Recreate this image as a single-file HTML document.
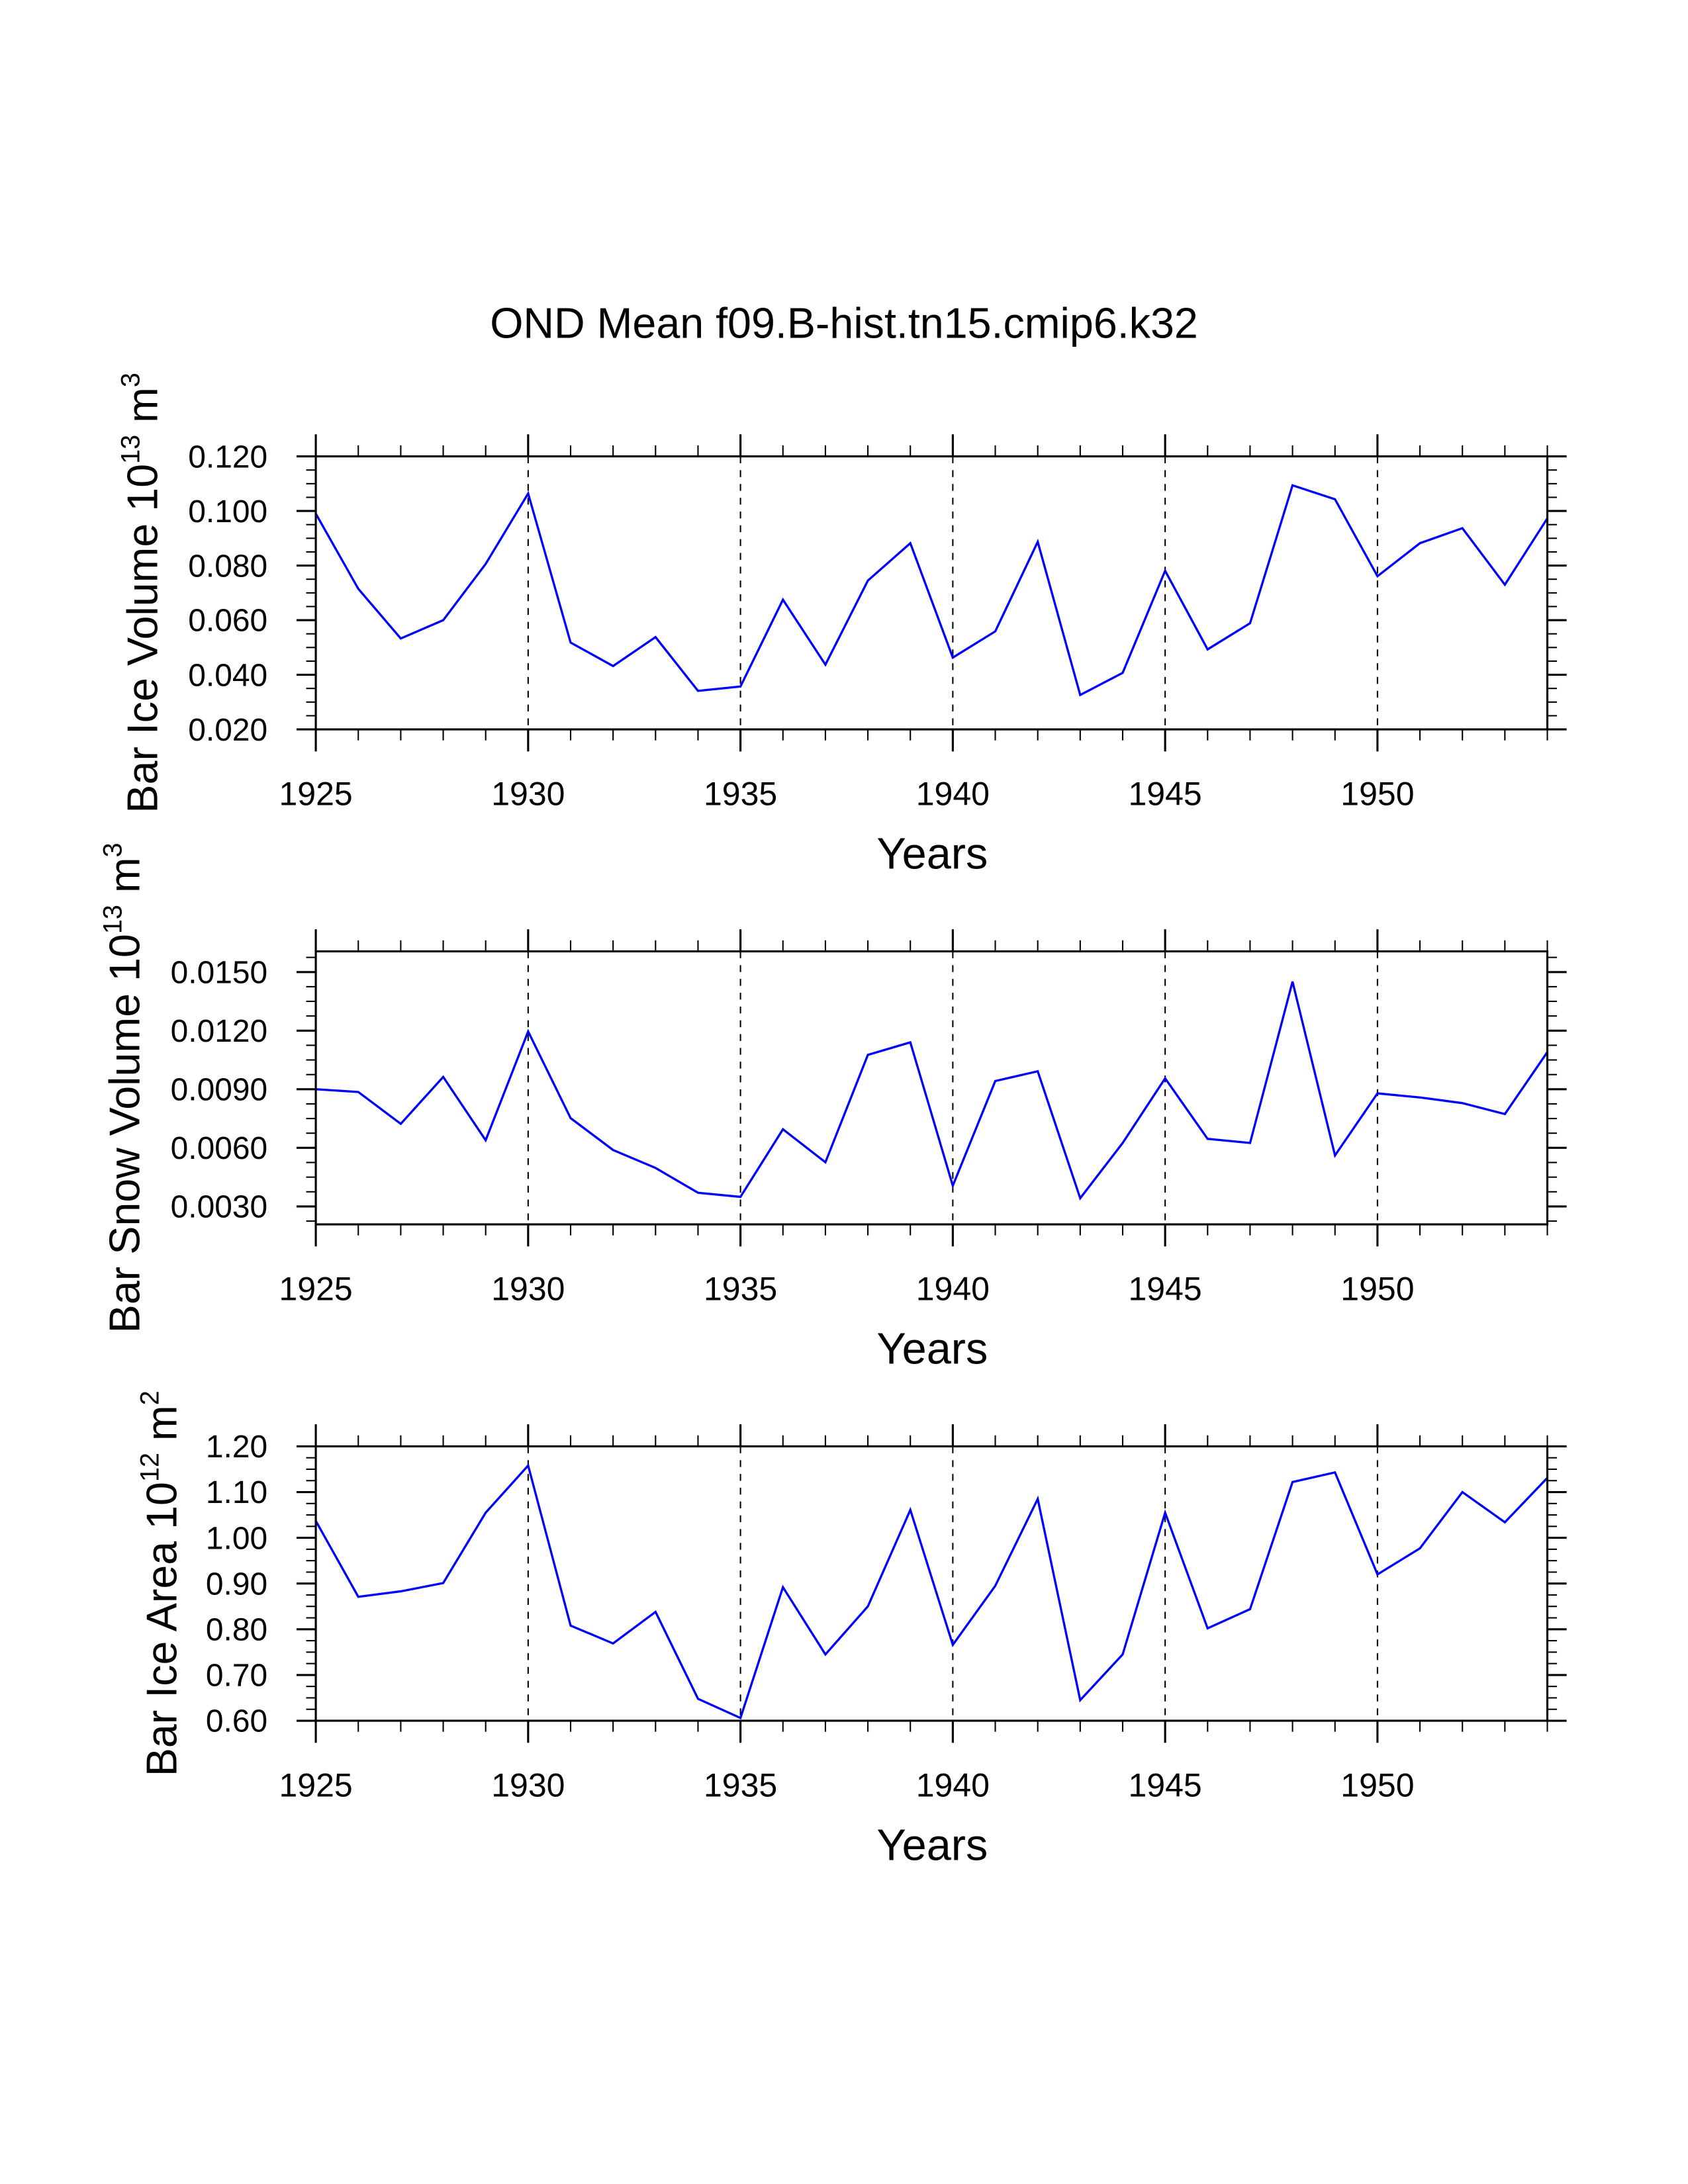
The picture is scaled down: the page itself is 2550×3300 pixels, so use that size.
<!DOCTYPE html>
<html><head><meta charset="utf-8"><style>html,body{margin:0;padding:0;background:#fff}svg{display:block}</style></head>
<body>
<svg id="chart" xmlns="http://www.w3.org/2000/svg" width="2550" height="3300" viewBox="0 0 1224 1584" font-family="'Liberation Sans', sans-serif">
<text x="612" y="245" font-size="31" text-anchor="middle">OND Mean f09.B-hist.tn15.cmip6.k32</text>
</svg>
<script>
const years = [1925,1926,1927,1928,1929,1930,1931,1932,1933,1934,1935,1936,1937,1938,1939,1940,1941,1942,1943,1944,1945,1946,1947,1948,1949,1950,1951,1952,1953,1954];
const iceVolume = [0.099,0.0715,0.0533,0.060,0.0806,0.1064,0.0518,0.0432,0.0538,0.0341,0.0357,0.0675,0.0437,0.0745,0.0882,0.0463,0.0559,0.0887,0.0326,0.0407,0.0781,0.0493,0.0589,0.1094,0.1043,0.0761,0.0882,0.0937,0.073,0.0973];
const snowVolume = [0.0090,0.00886,0.00723,0.00963,0.00639,0.01196,0.00752,0.00589,0.00497,0.0037,0.00349,0.00695,0.00526,0.01076,0.0114,0.00406,0.00942,0.00992,0.00342,0.00625,0.00956,0.00646,0.00625,0.01451,0.00561,0.00879,0.00858,0.00829,0.00773,0.0109];
const iceArea = [1.037,0.871,0.883,0.901,1.055,1.158,0.808,0.769,0.838,0.648,0.606,0.892,0.745,0.850,1.061,0.766,0.895,1.085,0.645,0.745,1.055,0.802,0.844,1.122,1.143,0.920,0.977,1.100,1.034,1.131];
const xTickLabels = [1925,1930,1935,1940,1945,1950];
const iceVolTicks = [0.02,0.04,0.06,0.08,0.10,0.12];
const snowTicks = [0.003,0.006,0.009,0.012,0.015];
const areaTicks = [0.6,0.7,0.8,0.9,1.0,1.1,1.2];

const svg = document.getElementById('chart');
const NS = 'http://www.w3.org/2000/svg';
function mk(tag, attrs, parent){const e=document.createElementNS(NS,tag);for(const k in attrs)e.setAttribute(k,attrs[k]);(parent||svg).appendChild(e);return e;}

const X0=229, X1=1122;
function xs(yr){return X0+(yr-1925)*(X1-X0)/(1954-1925);}

function panel(name, top, bot, ymin, ymax, values, ticks, minorStep, dec, titleParts, titleX){
  const g = mk('g',{});
  
  
  const ys = v => bot-(v-ymin)*(bot-top)/(ymax-ymin);
  xTickLabels.slice(1).forEach(yr=>{
    const l=mk('line',{x1:xs(yr),x2:xs(yr),y1:top,y2:bot,stroke:'#000','stroke-width':1,'stroke-dasharray':'5,5'},g);
    
    
  });
  const pts = years.map((yr,i)=>xs(yr).toFixed(2)+','+ys(values[i]).toFixed(2)).join(' ');
  const pl = mk('polyline',{points:pts,fill:'none',stroke:'#0000ff','stroke-width':1.6,'stroke-linejoin':'miter'},g);
  
  
  const fr = mk('rect',{x:X0,y:top,width:X1-X0,height:bot-top,fill:'none',stroke:'#000','stroke-width':1.5},g);
  
  
  years.forEach(yr=>{
    const major = (yr-1925)%5===0;
    const len = major?16:8, w = major?1.5:1;
    mk('line',{x1:xs(yr),x2:xs(yr),y1:top,y2:top-len,stroke:'#000','stroke-width':w},g);
    mk('line',{x1:xs(yr),x2:xs(yr),y1:bot,y2:bot+len,stroke:'#000','stroke-width':w},g);
  });
  xTickLabels.forEach(yr=>{
    const t=mk('text',{x:xs(yr),y:bot+55,'font-size':24,'text-anchor':'middle'},g);
    t.textContent=yr;
    
    
  });
  const start = Math.ceil(ymin/minorStep-1e-6);
  for(let k=start;k*minorStep<=ymax+1e-9;k++){
    const v=k*minorStep;
    const y=ys(v);
    const major = ticks.some(t=>Math.abs(t-v)<minorStep/10);
    const len = major?14:7, w = major?1.5:1;
    mk('line',{x1:X0,x2:X0-len,y1:y,y2:y,stroke:'#000','stroke-width':w},g);
    mk('line',{x1:X1,x2:X1+len,y1:y,y2:y,stroke:'#000','stroke-width':w},g);
  }
  ticks.forEach(v=>{
    const t=mk('text',{x:194,y:ys(v)+8,'font-size':23,'text-anchor':'end'},g);
    t.textContent=v.toFixed(dec);
    
    
  });
  const xt=mk('text',{x:676,y:bot+101,'font-size':32,'text-anchor':'middle'},g);
  xt.textContent='Years';
  
  
  const cy=(top+bot)/2;
  const yt=mk('text',{x:0,y:0,'font-size':31,'text-anchor':'middle',transform:'translate('+titleX+','+cy+') rotate(-90)'},g);
  
  
  const a=mk('tspan',{},yt); a.textContent=titleParts[0];
  const b=mk('tspan',{dy:-13,'font-size':19},yt); b.textContent=titleParts[1];
  const c=mk('tspan',{dy:13},yt); c.textContent=' '+titleParts[2];
  const d=mk('tspan',{dy:-13,'font-size':19},yt); d.textContent=titleParts[3];
}
panel('ice-volume',331,529,0.02,0.12,iceVolume,iceVolTicks,0.005,3,['Bar Ice Volume 10','13','m','3'],114);
panel('snow-volume',690,888,0.003-13*0.003/42.5,0.015+15*0.003/42.5,snowVolume,snowTicks,0.00075,4,['Bar Snow Volume 10','13','m','3'],101);
panel('ice-area',1049,1248,0.6,1.2,iceArea,areaTicks,0.025,2,['Bar Ice Area 10','12','m','2'],128);
</script>
</body></html>
